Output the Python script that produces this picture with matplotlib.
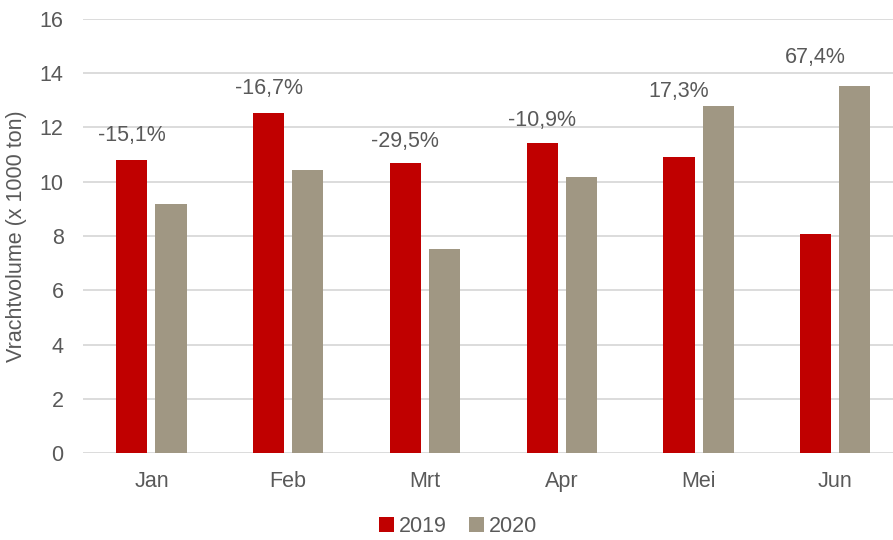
import matplotlib.pyplot as plt
import numpy as np

plt.rcParams['font.family'] = ['Liberation Sans', 'DejaVu Sans']

# Maanden en vrachtvolume (x 1000 ton)
months = ['Jan', 'Feb', 'Mrt', 'Apr', 'Mei', 'Jun']
vol_2019 = [10.8, 12.52, 10.68, 11.42, 10.9, 8.08]
vol_2020 = [9.18, 10.43, 7.52, 10.17, 12.79, 13.52]
pct_labels = ['-15,1%', '-16,7%', '-29,5%', '-10,9%', '17,3%', '67,4%']
label_y = [11.7, 13.45, 11.5, 12.26, 13.34, 14.58]

red = '#C00000'
grey = '#A09783'
txt = '#595959'
fs = 15.5

fig = plt.figure(figsize=(8.93, 5.4), dpi=100)
ax = fig.add_axes([0.093, 0.161, 0.919, 0.804])

x = np.arange(len(months))
w = 0.227
off = 0.143
ax.bar(x - off, vol_2019, w, color=red, label='2019', zorder=3)
ax.bar(x + off, vol_2020, w, color=grey, label='2020', zorder=3)

# percentage verandering boven de staven
for i, (lab, y) in enumerate(zip(pct_labels, label_y)):
    ax.text(i - off, y, lab, ha='center', va='center', fontsize=fs, color=txt)

ax.set_xlim(-0.5, 5.5)
ax.set_ylim(0, 16)
ax.set_yticks(range(0, 17, 2))
ax.set_xticks(x)
ax.set_xticklabels(months)
ax.grid(axis='y', color='#D9D9D9', linewidth=1.3, zorder=0)
for s in ax.spines.values():
    s.set_visible(False)
ax.tick_params(length=0, labelsize=fs, labelcolor=txt)
ax.tick_params(axis='x', pad=13)
ax.tick_params(axis='y', pad=14)
ax.set_ylabel('Vrachtvolume (x 1000 ton)', fontsize=fs, color=txt, labelpad=9)

ax.legend(loc='center', bbox_to_anchor=(0.457, -0.17), ncol=2, frameon=False,
          fontsize=fs, labelcolor=txt, handlelength=0.7, handleheight=0.7,
          handletextpad=0.25, columnspacing=1.0, borderpad=0)

fig.savefig('out.png', dpi=100)
